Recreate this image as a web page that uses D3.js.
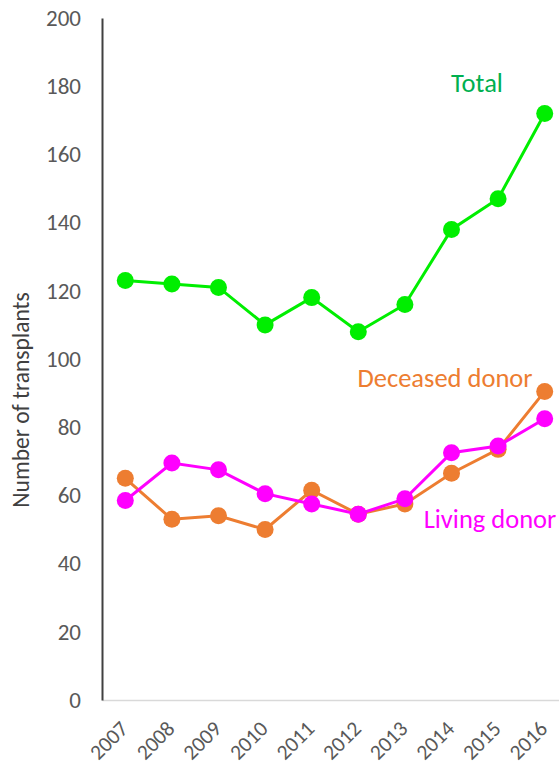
<!DOCTYPE html>
<html>
<head>
<meta charset="utf-8">
<script src="https://cdn.jsdelivr.net/npm/d3@7"></script>
<style>
  body { margin: 0; background: #fff; }
  svg { display: block; }
  svg text { font-family: Carlito, "Open Sans", "Noto Sans", sans-serif; }
</style>
</head>
<body>
<svg id="chart"></svg>
<script>
const years = ['2007', '2008', '2009', '2010', '2011', '2012', '2013', '2014', '2015', '2016']
const total = [123, 122, 121, 110, 118, 108, 116, 138, 147, 172]
const deceased = [65, 53, 54, 50, 61.5, 54.5, 57.5, 66.5, 73.5, 90.5]
const living = [58.5, 69.5, 67.5, 60.5, 57.5, 54.5, 59, 72.5, 74.5, 82.5]
const yTicks = [0, 20, 40, 60, 80, 100, 120, 140, 160, 180, 200]

const svgWidth = 559, svgHeight = 764
const margin = { top: 18, right: -9, bottom: 64, left: 102 }
const width = svgWidth - margin.left - margin.right
const height = svgHeight - margin.top - margin.bottom

const svg = d3.select('#chart').attr('width', svgWidth).attr('height', svgHeight)
const g = svg.append('g').attr('transform', `translate(${margin.left},${margin.top})`)

const x = d3.scaleBand().domain(years).range([0, width])
const y = d3.scaleLinear().domain([0, 200]).range([height, 0])
const cx = d => x(d) + x.bandwidth() / 2

// x axis
g.append('g')
  .attr('transform', `translate(0,${height})`)
  .call(d3.axisBottom(x).tickSize(0))
  .attr('font-family', null)
  .call(a => a.select('.domain').attr('stroke', '#d9d9d9').attr('stroke-width', 1.5))
  .call(a => a.selectAll('text')
    .attr('fill', '#595959')
    .style('font-size', '21.5px')
    .attr('text-anchor', 'end')
    .attr('dy', null)
    .attr('transform', 'translate(2,28) rotate(-45)'))

// y axis
g.append('g')
  .call(d3.axisLeft(y).tickValues(yTicks).tickSize(0).tickPadding(21))
  .attr('font-family', null)
  .call(a => a.select('.domain').attr('stroke', '#404040').attr('stroke-width', 2))
  .call(a => a.selectAll('text').attr('fill', '#595959').style('font-size', '23px'))

svg.append('text')
  .attr('transform', `translate(29,${margin.top + height / 2 + 41}) rotate(-90)`)
  .attr('text-anchor', 'middle')
  .attr('fill', '#404040')
  .style('font-size', '23.5px')
  .text('Number of transplants')

const series = [
  { name: 'Deceased donor', values: deceased, color: '#ed7d31' },
  { name: 'Living donor', values: living, color: '#ff00ff' },
  { name: 'Total', values: total, color: '#00ee00' }
]

const line = d3.line().x((d, i) => cx(years[i])).y(d => y(d))

series.forEach(s => {
  g.append('path')
    .datum(s.values)
    .attr('fill', 'none')
    .attr('stroke', s.color)
    .attr('stroke-width', 3)
    .attr('d', line)
  g.selectAll(null)
    .data(s.values)
    .enter()
    .append('circle')
    .attr('cx', (d, i) => cx(years[i]))
    .attr('cy', d => y(d))
    .attr('r', 8.5)
    .attr('fill', s.color)
})

// labels
const labels = [
  { text: 'Total', x: 477, y: 92, color: '#00b050' },
  { text: 'Deceased donor', x: 445, y: 387, color: '#ed7d31' },
  { text: 'Living donor', x: 490, y: 528, color: '#ff00ff' }
]
svg.selectAll('.lbl')
  .data(labels)
  .enter()
  .append('text')
  .attr('class', 'lbl')
  .attr('x', d => d.x)
  .attr('y', d => d.y)
  .attr('text-anchor', 'middle')
  .attr('fill', d => d.color)
  .style('font-size', '26.5px')
  .text(d => d.text)
</script>
</body>
</html>
